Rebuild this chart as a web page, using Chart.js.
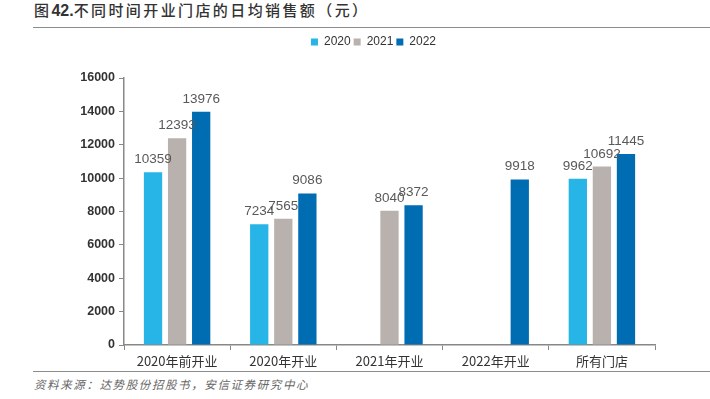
<!DOCTYPE html>
<html>
<head>
<meta charset="utf-8">
<script src="https://cdn.jsdelivr.net/npm/chart.js@4/dist/chart.umd.min.js"></script>
<style>
  html, body { margin: 0; padding: 0; background: #fff; }
  body { width: 710px; height: 399px; position: relative; overflow: hidden; font-family: "Noto Sans CJK SC", sans-serif; }
  #title { position: absolute; left: 34px; top: 0; font-size: 15px; font-weight: 500; color: #333; letter-spacing: 2.4px; line-height: 20px; }
  #title b { font-family: "Liberation Sans", sans-serif; font-size: 16px; letter-spacing: 0; }
  #rule-top { position: absolute; left: 33px; right: 0; top: 27px; height: 0; border-top: 1.5px solid #8c8c8c; }
  #rule-bot { position: absolute; left: 33px; right: 0; top: 371px; height: 0; border-top: 1.5px solid #8c8c8c; }
  #source { position: absolute; left: 34px; top: 376px; font-size: 11.5px; font-style: italic; color: #666; line-height: 16px; letter-spacing: 1.6px; }
  #wrap { position: absolute; left: 0; top: 30px; width: 710px; height: 340px; }
</style>
</head>
<body>
<div id="title">图<b>42.</b>不同时间开业门店的日均销售额（元）</div>
<div id="rule-top"></div>
<div id="wrap"><canvas id="c"></canvas></div>
<div id="rule-bot"></div>
<div id="source">资料来源：达势股份招股书，安信证券研究中心</div>
<script>
const categories = ['2020年前开业', '2020年开业', '2021年开业', '2022年开业', '所有门店'];
const years = ['2020', '2021', '2022'];
const sales2020 = [10359, 7234, null, null, 9962];
const sales2021 = [12393, 7565, 8040, null, 10692];
const sales2022 = [13976, 9086, 8372, 9918, 11445];
const yTicks = [0, 2000, 4000, 6000, 8000, 10000, 12000, 14000, 16000];

const colors = ['#27b4e6', '#b9b1ae', '#006db3'];

// value labels above each bar
const barLabels = {
  id: 'barLabels',
  afterDatasetsDraw: chart => {
    const ctx = chart.ctx;
    ctx.save();
    ctx.font = '13.5px "Liberation Sans", Arial, sans-serif';
    ctx.fillStyle = '#595959';
    ctx.textAlign = 'center';
    ctx.textBaseline = 'bottom';
    chart.data.datasets.forEach((ds, i) => {
      chart.getDatasetMeta(i).data.forEach((bar, j) => {
        if (ds.data[j] == null) return;
        ctx.fillText(String(ds.data[j]), bar.x, bar.y - 6);
      });
    });
    ctx.restore();
  }
};

// extra room below the legend, and legend nudged right
const legendGap = {
  id: 'legendGap',
  beforeInit: chart => {
    const fit = chart.legend.fit;
    chart.legend.fit = function () {
      fit.bind(chart.legend)();
      this.height += 20;
    };
  },
  afterLayout: chart => {
    chart.legend.left += 46;
    chart.legend.right += 46;
  }
};

new Chart(document.getElementById('c'), {
  type: 'bar',
  data: {
    labels: categories,
    datasets: [
      { label: years[0], data: sales2020, backgroundColor: colors[0] },
      { label: years[1], data: sales2021, backgroundColor: colors[1] },
      { label: years[2], data: sales2022, backgroundColor: colors[2] }
    ]
  },
  options: {
    responsive: true,
    maintainAspectRatio: false,
    animation: false,
    categoryPercentage: 0.68,
    barPercentage: 0.76,
    layout: { padding: { left: 0, right: 55, top: 3, bottom: 0 } },
    scales: {
      x: {
        afterFit: s => { s.height = 25; },
        grid: { offset: true, drawOnChartArea: false, tickLength: 5, color: '#888' },
        border: { color: '#888', width: 1.5 },
        ticks: { color: '#333', font: { family: '"Noto Sans CJK SC"', size: 13 }, padding: 3 }
      },
      y: {
        min: 0,
        max: 16000,
        afterFit: s => { s.width = 124; },
        afterBuildTicks: s => { s.ticks = yTicks.map(v => ({ value: v })); },
        grid: { drawOnChartArea: false, tickLength: 5, color: '#888' },
        border: { color: '#888', width: 1.5 },
        ticks: {
          color: '#333',
          font: { family: '"Liberation Sans"', size: 12.5, weight: 'bold' },
          padding: 4,
          callback: v => String(v)
        }
      }
    },
    plugins: {
      legend: {
        position: 'top',
        labels: {
          boxWidth: 7,
          boxHeight: 7,
          padding: 3,
          color: '#333',
          font: { family: '"Liberation Sans"', size: 12 }
        }
      },
      tooltip: { enabled: false }
    }
  },
  plugins: [barLabels, legendGap]
});
</script>
</body>
</html>
